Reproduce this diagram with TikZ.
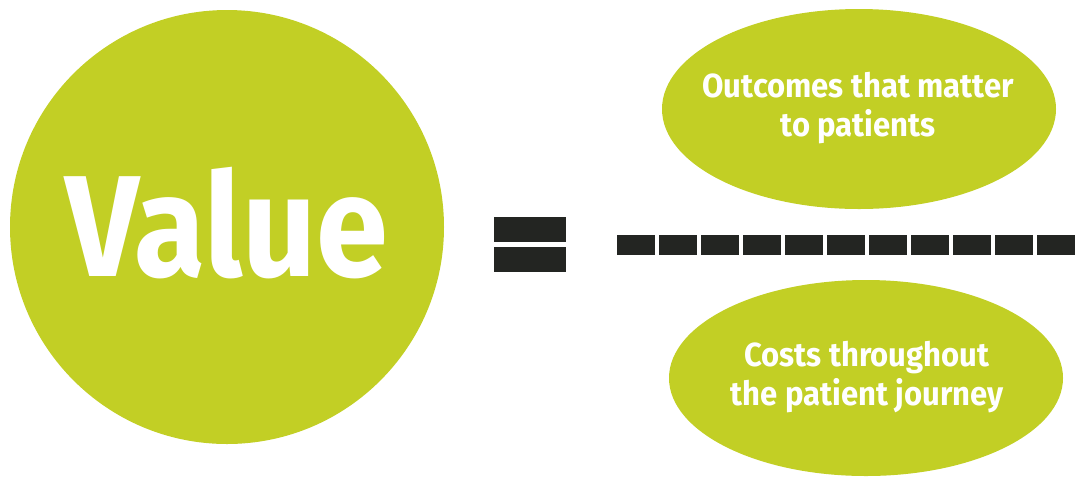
\documentclass[tikz,border=0pt]{standalone}
\usepackage{fontspec}
\setmainfont{Fira Sans}
\newfontfamily\valuefont[FakeStretch=0.9]{Fira Sans Bold}
\newfontfamily\blobfont[FakeStretch=0.93]{Fira Sans Bold}
\usetikzlibrary{shapes.geometric}
\definecolor{clime}{HTML}{C2CF25}
\definecolor{cdark}{HTML}{232522}
\tikzset{
  every picture/.style={x=0.02cm, y=-0.02cm},
  blob/.style={fill=clime},
  label/.style={inner sep=0pt, align=center, text=white, font=\blobfont\fontsize{19}{22.7}\selectfont},
  bar/.style={fill=cdark},
}

\begin{document}
\begin{tikzpicture}
  \useasboundingbox (0,0) rectangle (1075,478);
  \fill[blob] (227,227) circle [radius=217];
  \node[inner sep=0pt, text=white, anchor=base, font=\valuefont\fontsize{82}{82}\selectfont] (value) at (227,276) {Value};
  % equals sign
  \fill[bar] (494,217) rectangle (566,242);
  \fill[bar] (494,247) rectangle (566,272);
  % fraction bar
  \foreach \k in {0,...,10} \fill[bar] (617+42*\k,235) rectangle (655+42*\k,255);
  \fill[blob] (859,109) ellipse [x radius=197, y radius=100];
  \node[label] (outcomes) at (858,108) {Outcomes that matter\\to patients};
  \fill[blob] (866,378) ellipse [x radius=197, y radius=98];
  \node[label] (costs) at (867,377) {Costs throughout\\the patient journey};
\end{tikzpicture}
\end{document}
